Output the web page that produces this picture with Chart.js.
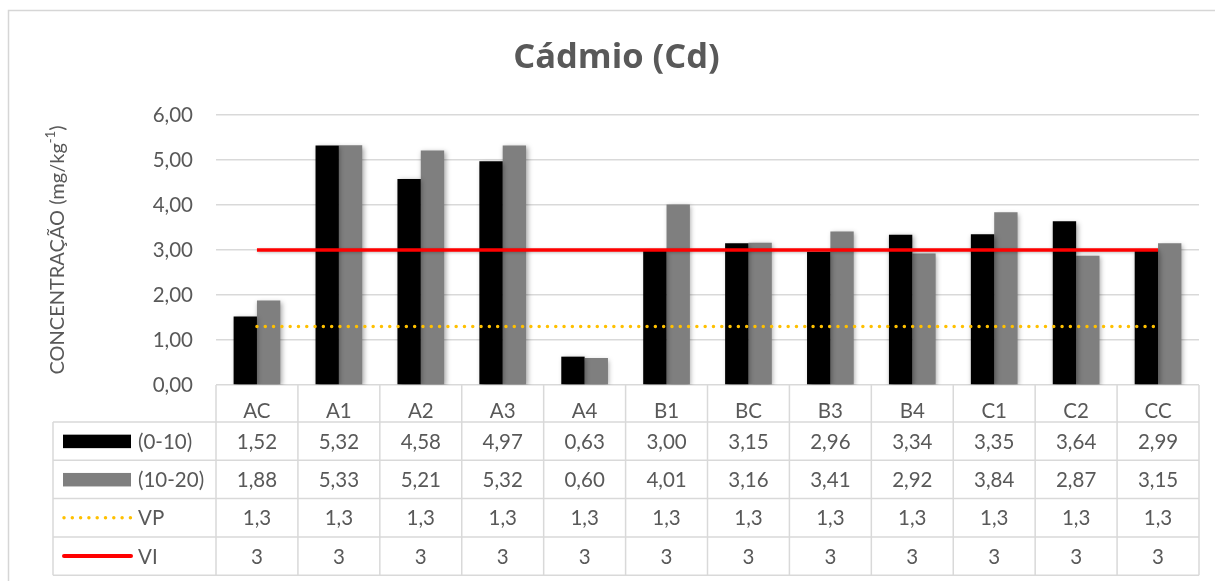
<!DOCTYPE html>
<html>
<head>
<meta charset="utf-8">
<title>Cádmio (Cd)</title>
<script src="https://cdn.jsdelivr.net/npm/chart.js@4/dist/chart.umd.min.js"></script>
<style>
  html, body { margin: 0; padding: 0; background: #ffffff; }
  #wrap { width: 1215px; height: 581px; position: relative; }
  canvas { display: block; }
</style>
</head>
<body>
<div id="wrap"><canvas id="cd" width="1215" height="581"></canvas></div>
<script>
// Sampling points
const categories = ['AC', 'A1', 'A2', 'A3', 'A4', 'B1', 'BC', 'B3', 'B4', 'C1', 'C2', 'CC'];
// Cadmium concentration by depth (mg/kg)
const depth0to10 = [1.52, 5.32, 4.58, 4.97, 0.63, 3.00, 3.15, 2.96, 3.34, 3.35, 3.64, 2.99];
const depth10to20 = [1.88, 5.33, 5.21, 5.32, 0.60, 4.01, 3.16, 3.41, 2.92, 3.84, 2.87, 3.15];
// Prevention value (VP) and investigation value (VI)
const valorVP = [1.3, 1.3, 1.3, 1.3, 1.3, 1.3, 1.3, 1.3, 1.3, 1.3, 1.3, 1.3];
const valorVI = [3, 3, 3, 3, 3, 3, 3, 3, 3, 3, 3, 3];
// Y axis ticks
const yTicks = [0, 1, 2, 3, 4, 5, 6];

const FONT = 'Lato';
const TXT = '#595959';
const GRID = '#d9d9d9';
const TXT_SIZE = 20.5;
const PAD_LEFT = 34;

const fmt2 = v => v.toFixed(2).replace('.', ',');
const fmtRaw = v => String(v).replace('.', ',');

// Outer chart frame
const framePlugin = {
  id: 'frame',
  beforeDraw(chart) {
    const ctx = chart.ctx;
    ctx.save();
    ctx.fillStyle = '#ffffff';
    ctx.fillRect(0, 0, chart.width, chart.height);
    ctx.strokeStyle = '#d6d6d6';
    ctx.lineWidth = 1.5;
    ctx.strokeRect(8.5, 10.5, chart.width + 20, chart.height + 20);
    ctx.restore();
  }
};

// Soft drop shadow under the columns and the VI line
const shadowPlugin = {
  id: 'shadow',
  beforeDatasetDraw(chart, args) {
    const ctx = chart.ctx;
    ctx.save();
    if (args.meta.type === 'bar') {
      ctx.shadowColor = 'rgba(0,0,0,0.35)';
      ctx.shadowBlur = 5;
      ctx.shadowOffsetX = 1.5;
      ctx.shadowOffsetY = 1.5;
    } else if (args.index === 3) {
      ctx.shadowColor = 'rgba(0,0,0,0.25)';
      ctx.shadowBlur = 3;
      ctx.shadowOffsetX = 1;
      ctx.shadowOffsetY = 1;
    }
  },
  afterDatasetDraw(chart) {
    chart.ctx.restore();
  }
};

// Rotated Y axis title with superscript exponent
const yTitlePlugin = {
  id: 'yTitle',
  afterDraw(chart) {
    const ctx = chart.ctx;
    const area = chart.chartArea;
    const main = 'CONCENTRAÇÃO (mg/kg';
    const sup = '-1';
    const tail = ')';
    const fMain = `20px ${FONT}`;
    const fSup = `13px ${FONT}`;
    ctx.save();
    ctx.font = fMain;
    const wMain = ctx.measureText(main).width;
    const wTail = ctx.measureText(tail).width;
    ctx.font = fSup;
    const wSup = ctx.measureText(sup).width;
    const total = wMain + wSup + wTail;
    ctx.translate(58, (area.top + area.bottom) / 2);
    ctx.rotate(-Math.PI / 2);
    ctx.fillStyle = TXT;
    ctx.textBaseline = 'middle';
    ctx.textAlign = 'left';
    let x = -total / 2;
    ctx.font = fMain;
    ctx.fillText(main, x, 0);
    x += wMain;
    ctx.font = fSup;
    ctx.fillText(sup, x, -7);
    x += wSup;
    ctx.font = fMain;
    ctx.fillText(tail, x, 0);
    ctx.restore();
  }
};

// Data table under the plot, aligned on the category scale
const tablePlugin = {
  id: 'dataTable',
  afterDraw(chart) {
    const ctx = chart.ctx;
    const area = chart.chartArea;
    const xs = chart.scales.x;
    const n = categories.length;
    const cw = (area.right - area.left) / n;
    const headerH = 37;
    const rowH = 38.3;
    const legendLeft = 53;
    const top = area.bottom;
    const rowsTop = top + headerH;
    const rows = [
      { label: '(0-10)', values: depth0to10.map(fmt2), key: 'bar', color: '#000000' },
      { label: '(10-20)', values: depth10to20.map(fmt2), key: 'bar', color: '#7f7f7f' },
      { label: 'VP', values: valorVP.map(fmtRaw), key: 'dot', color: '#ffc000' },
      { label: 'VI', values: valorVI.map(fmtRaw), key: 'line', color: '#ff0000' }
    ];
    const bottom = rowsTop + rows.length * rowH;

    ctx.save();
    ctx.strokeStyle = GRID;
    ctx.lineWidth = 1.5;
    ctx.beginPath();
    // vertical cell borders
    for (let i = 0; i <= n; i++) {
      const x = area.left + i * cw;
      ctx.moveTo(x, top);
      ctx.lineTo(x, bottom);
    }
    ctx.moveTo(legendLeft, rowsTop);
    ctx.lineTo(legendLeft, bottom);
    // horizontal cell borders
    for (let r = 0; r <= rows.length; r++) {
      const y = rowsTop + r * rowH;
      ctx.moveTo(legendLeft, y);
      ctx.lineTo(area.right, y);
    }
    ctx.stroke();

    ctx.font = `${TXT_SIZE}px ${FONT}`;
    ctx.fillStyle = TXT;
    ctx.textBaseline = 'middle';
    rows.forEach((row, r) => {
      const cy = rowsTop + r * rowH + rowH / 2;
      // legend key
      if (row.key === 'bar') {
        ctx.fillStyle = row.color;
        ctx.fillRect(63, cy - 6.5, 68, 13.5);
      } else if (row.key === 'dot') {
        ctx.strokeStyle = row.color;
        ctx.lineWidth = 3.5;
        ctx.lineCap = 'round';
        ctx.setLineDash([0, 8.3]);
        ctx.beginPath();
        ctx.moveTo(64, cy);
        ctx.lineTo(131, cy);
        ctx.stroke();
        ctx.setLineDash([]);
      } else {
        ctx.strokeStyle = row.color;
        ctx.lineWidth = 4;
        ctx.lineCap = 'round';
        ctx.beginPath();
        ctx.moveTo(64, cy);
        ctx.lineTo(131, cy);
        ctx.stroke();
      }
      ctx.fillStyle = TXT;
      ctx.textAlign = 'left';
      ctx.fillText(row.label, 138, cy + 1);
      ctx.textAlign = 'center';
      row.values.forEach((v, i) => {
        ctx.fillText(v, xs.getPixelForValue(i), cy + 1);
      });
    });
    ctx.restore();
  }
};

new Chart(document.getElementById('cd'), {
  type: 'bar',
  data: {
    labels: categories,
    datasets: [
      {
        label: '(0-10)',
        data: depth0to10,
        backgroundColor: '#000000',
        categoryPercentage: 0.57,
        barPercentage: 1.0,
        order: 2
      },
      {
        label: '(10-20)',
        data: depth10to20,
        backgroundColor: '#7f7f7f',
        categoryPercentage: 0.57,
        barPercentage: 1.0,
        order: 2
      },
      {
        type: 'line',
        label: 'VP',
        data: valorVP,
        borderColor: '#ffc000',
        borderWidth: 3.5,
        borderDash: [0, 8.3],
        borderCapStyle: 'round',
        pointRadius: 0,
        fill: false,
        order: 1
      },
      {
        type: 'line',
        label: 'VI',
        data: valorVI,
        borderColor: '#ff0000',
        borderWidth: 3.5,
        pointRadius: 0,
        fill: false,
        order: 0
      }
    ]
  },
  options: {
    responsive: false,
    animation: false,
    devicePixelRatio: 1,
    layout: { padding: { left: PAD_LEFT, right: 16, top: 0, bottom: 0 } },
    plugins: {
      legend: { display: false },
      tooltip: { enabled: false },
      title: {
        display: true,
        text: 'Cádmio (Cd)',
        color: TXT,
        font: { family: '"Open Sans"', size: 34.5, weight: 'bold', lineHeight: 1.2 },
        padding: { top: 37.5, bottom: 36.1 }
      }
    },
    scales: {
      x: {
        grid: { display: false },
        border: { display: false },
        ticks: {
          color: TXT,
          font: { family: FONT, size: TXT_SIZE },
          padding: 6,
          maxRotation: 0,
          autoSkip: false
        },
        afterFit(scale) { scale.height = 196; }
      },
      y: {
        min: 0,
        max: 6,
        afterBuildTicks(scale) { scale.ticks = yTicks.map(v => ({ value: v })); },
        grid: { color: GRID, lineWidth: 1.5, drawTicks: false },
        border: { display: false },
        ticks: {
          color: TXT,
          font: { family: FONT, size: TXT_SIZE },
          padding: 23,
          callback: v => fmt2(v)
        },
        afterFit(scale) { scale.width = 216 - PAD_LEFT; }
      }
    }
  },
  plugins: [framePlugin, shadowPlugin, yTitlePlugin, tablePlugin]
});
</script>
</body>
</html>
